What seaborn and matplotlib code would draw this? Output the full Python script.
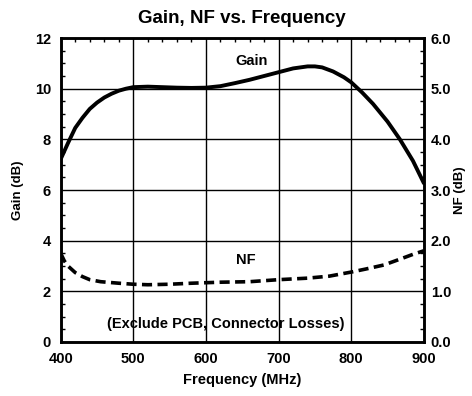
import matplotlib
matplotlib.use("Agg")
import matplotlib.pyplot as plt
from matplotlib.ticker import MultipleLocator
import seaborn as sns
import pandas as pd

gain_freq = [400, 410, 420, 430, 440, 450, 460, 470, 480, 490, 500, 520, 540, 560, 580,
             600, 620, 640, 660, 680, 700, 720, 740, 750, 760, 775, 790, 800, 815, 830,
             850, 867, 885, 900]
gain_db = [7.22, 7.85, 8.45, 8.85, 9.2, 9.45, 9.65, 9.8, 9.92, 10.0, 10.06, 10.08, 10.06,
           10.04, 10.03, 10.04, 10.1, 10.22, 10.35, 10.5, 10.65, 10.8, 10.88, 10.88, 10.84,
           10.68, 10.45, 10.25, 9.85, 9.4, 8.7, 8.0, 7.15, 6.27]

nf_freq = [400, 405, 410, 420, 430, 440, 455, 480, 500, 520, 550, 580, 620, 660, 700,
           740, 770, 800, 820, 845, 870, 885, 900]
nf_db = [1.75, 1.6, 1.5, 1.37, 1.29, 1.23, 1.19, 1.16, 1.14, 1.13, 1.14, 1.16, 1.18, 1.19,
         1.23, 1.26, 1.3, 1.38, 1.44, 1.52, 1.65, 1.73, 1.8]

x_ticks = [400, 500, 600, 700, 800, 900]
gain_ticks = [0, 2, 4, 6, 8, 10, 12]
nf_ticks = [0.0, 1.0, 2.0, 3.0, 4.0, 5.0, 6.0]

gain_df = pd.DataFrame({"Frequency": gain_freq, "Gain": gain_db})
nf_df = pd.DataFrame({"Frequency": nf_freq, "NF": nf_db})

sns.set_theme(style="white")
plt.rcParams["font.family"] = ["Liberation Sans", "DejaVu Sans"]
plt.rcParams["font.weight"] = "bold"
plt.rcParams["text.color"] = "black"
plt.rcParams["axes.labelcolor"] = "black"
plt.rcParams["xtick.color"] = "black"
plt.rcParams["ytick.color"] = "black"

fig = plt.figure(figsize=(4.72, 3.96), dpi=100)
ax = fig.add_axes([0.1286, 0.1364, 0.7694, 0.7676])
ax2 = ax.twinx()

sns.lineplot(data=gain_df, x="Frequency", y="Gain", ax=ax, color="black", linewidth=2.8)
sns.lineplot(data=nf_df, x="Frequency", y="NF", ax=ax2, color="black", linewidth=2.6,
             linestyle=(0, (2.8, 1.5)))

ax.set_xlim(400, 900)
ax.set_ylim(0, 12)
ax2.set_ylim(0, 6)
ax.set_xticks(x_ticks)
ax.set_yticks(gain_ticks)
ax2.set_yticks(nf_ticks)
tfs = 10.5
ax.set_xticklabels([str(v) for v in x_ticks], fontweight="bold", fontsize=tfs)
ax.set_yticklabels([str(v) for v in gain_ticks], fontweight="bold", fontsize=tfs)
ax2.set_yticklabels([f"{v:.1f}" for v in nf_ticks], fontweight="bold", fontsize=tfs)
ax.xaxis.set_minor_locator(MultipleLocator(20))
ax.yaxis.set_minor_locator(MultipleLocator(0.5))
ax2.yaxis.set_minor_locator(MultipleLocator(0.25))

ax.grid(True, which="major", color="black", linewidth=1.0)
ax.set_axisbelow(True)
ax.tick_params(axis="both", which="both", direction="in", top=True, colors="black")
ax.tick_params(axis="both", which="major", length=0, pad=7)
ax.tick_params(axis="both", which="minor", length=3, width=1)
ax2.tick_params(axis="y", which="major", length=0, pad=5)
ax2.tick_params(axis="y", which="minor", direction="in", length=3, width=1)

for a in (ax, ax2):
    for s in a.spines.values():
        s.set_color("black")
        s.set_linewidth(1.8)

ax.set_xlabel("Frequency (MHz)", fontweight="bold", fontsize=10.5, labelpad=5)
ax.set_ylabel("Gain (dB)", fontweight="bold", fontsize=9.5, labelpad=8)
ax2.set_ylabel("NF (dB)", fontweight="bold", fontsize=9.5, labelpad=2)
ax.set_title("Gain, NF vs. Frequency", fontweight="bold", fontsize=13.5, pad=11)

ax.text(663, 11.1, "Gain", ha="center", va="center", fontweight="bold", fontsize=10.5)
ax.text(655, 3.25, "NF", ha="center", va="center", fontweight="bold", fontsize=10.5)
ax.text(627, 0.7, "(Exclude PCB, Connector Losses)", ha="center", va="center",
        fontweight="bold", fontsize=10.5)

fig.savefig("out.png", dpi=100)
